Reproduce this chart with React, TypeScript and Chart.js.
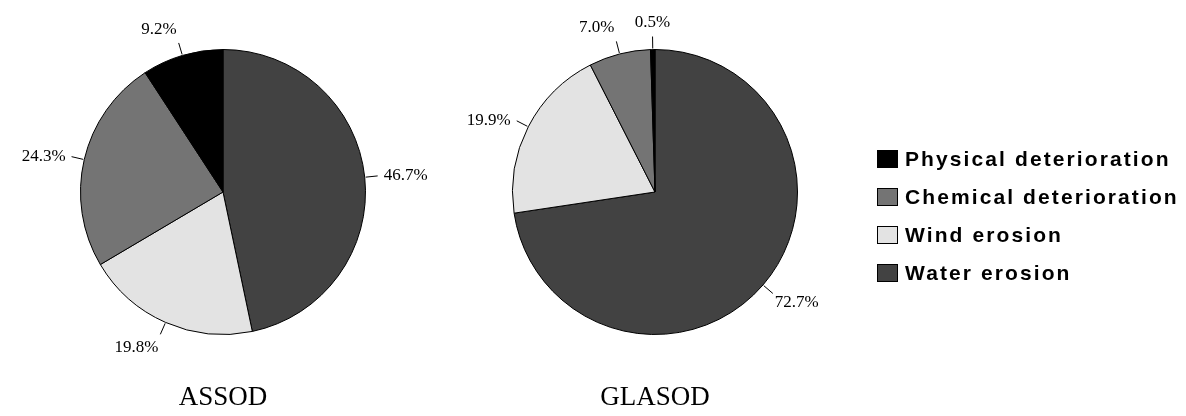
import { useEffect, useRef } from 'react';
import { Chart, registerables } from 'chart.js';

Chart.register(...registerables);

// ---- data ----
const categories = ['Physical deterioration', 'Chemical deterioration', 'Wind erosion', 'Water erosion'];
const assodValues = [9.2, 24.3, 19.8, 46.7];
const glasodValues = [0.5, 7.0, 19.9, 72.7];
const sliceColors = ['#000000', '#747474', '#e3e3e3', '#424242'];
const pieTitles = ['ASSOD', 'GLASOD'];

const serif = '"Liberation Serif", "Times New Roman", Times, serif';
const sans = '"Liberation Sans", Arial, Helvetica, sans-serif';

// slices run clockwise from 12 o'clock in the reverse of the legend order
const rev = <T,>(a: T[]) => [...a].reverse();

const leaderLabels = {
  id: 'leaderLabels',
  afterDatasetsDraw(chart: any) {
    const ctx = chart.ctx as CanvasRenderingContext2D;
    const meta = chart.getDatasetMeta(0);
    const values = chart.data.datasets[0].data as number[];
    ctx.save();
    ctx.font = `17px ${serif}`;
    ctx.fillStyle = '#000';
    ctx.strokeStyle = '#000';
    ctx.lineWidth = 1;
    ctx.textBaseline = 'middle';
    meta.data.forEach((arc: any, i: number) => {
      const p = arc.getProps(['x', 'y', 'startAngle', 'endAngle', 'outerRadius'], true);
      const mid = (p.startAngle + p.endAngle) / 2;
      const dx = Math.cos(mid);
      const dy = Math.sin(mid);
      const x1 = p.x + dx * (p.outerRadius + 1);
      const y1 = p.y + dy * (p.outerRadius + 1);
      const x2 = p.x + dx * (p.outerRadius + 13);
      const y2 = p.y + dy * (p.outerRadius + 13);
      ctx.beginPath();
      ctx.moveTo(x1, y1);
      ctx.lineTo(x2, y2);
      ctx.stroke();
      const side = Math.abs(dx) > 0.8;
      let tx = x2;
      if (Math.abs(dx) < 0.1) {
        ctx.textAlign = 'center';
      } else {
        ctx.textAlign = dx < 0 ? 'right' : 'left';
        tx = x2 + Math.sign(dx) * (side ? 6 : 2);
      }
      const ty = side ? y2 : y2 + dy * 14;
      ctx.fillText(values[i].toFixed(1) + '%', tx, ty);
    });
    ctx.restore();
  },
};

const sideLegend = {
  id: 'sideLegend',
  afterDraw(chart: any, _args: any, opts: any) {
    if (!opts || !opts.show) return;
    const ctx = chart.ctx as CanvasRenderingContext2D;
    ctx.save();
    ctx.font = `bold 21px ${sans}`;
    (ctx as any).letterSpacing = '2.1px';
    ctx.textBaseline = 'middle';
    ctx.textAlign = 'left';
    categories.forEach((name, i) => {
      const cy = opts.y + i * opts.gap;
      ctx.fillStyle = sliceColors[i];
      ctx.fillRect(opts.x, cy - 9, 21, 18);
      ctx.strokeStyle = '#000';
      ctx.lineWidth = 1;
      ctx.strokeRect(opts.x + 0.5, cy - 8.5, 20, 17);
      ctx.fillStyle = '#000';
      ctx.fillText(name, opts.x + 28, cy + 1);
    });
    ctx.restore();
  },
};

function makePie(canvas: HTMLCanvasElement, values: number[], title: string, padding: any, legend: boolean) {
  return new Chart(canvas, {
    type: 'pie',
    data: {
      labels: rev(categories),
      datasets: [
        {
          data: rev(values),
          backgroundColor: rev(sliceColors),
          borderColor: '#000',
          borderWidth: 1,
        },
      ],
    },
    options: {
      responsive: false,
      animation: false,
      layout: { padding },
      plugins: {
        legend: { display: false },
        tooltip: { enabled: false },
        title: {
          display: true,
          text: title,
          position: 'bottom',
          color: '#000',
          font: { family: serif, size: 27, weight: 'normal' },
          padding: { top: 45.6, bottom: 2 },
        },
        sideLegend: { show: legend, x: 447, y: 159, gap: 38 },
      } as any,
    },
    plugins: [leaderLabels, sideLegend],
  });
}

export default function App() {
  const leftRef = useRef<HTMLCanvasElement>(null);
  const rightRef = useRef<HTMLCanvasElement>(null);

  useEffect(() => {
    const a = makePie(leftRef.current!, assodValues, pieTitles[0], { left: 80, right: 80, top: 48, bottom: 0 }, false);
    const b = makePie(rightRef.current!, glasodValues, pieTitles[1], { left: 82, right: 388, top: 48, bottom: 0 }, true);
    return () => {
      a.destroy();
      b.destroy();
    };
  }, []);

  return (
    <div style={{ position: 'fixed', left: 0, top: 0, width: 1186, height: 416, background: '#fff', overflow: 'hidden' }}>
      <canvas ref={leftRef} width={446} height={416} style={{ position: 'absolute', left: 0, top: 0, width: 446, height: 416 }} />
      <canvas ref={rightRef} width={756} height={416} style={{ position: 'absolute', left: 430, top: 0, width: 756, height: 416 }} />
    </div>
  );
}
